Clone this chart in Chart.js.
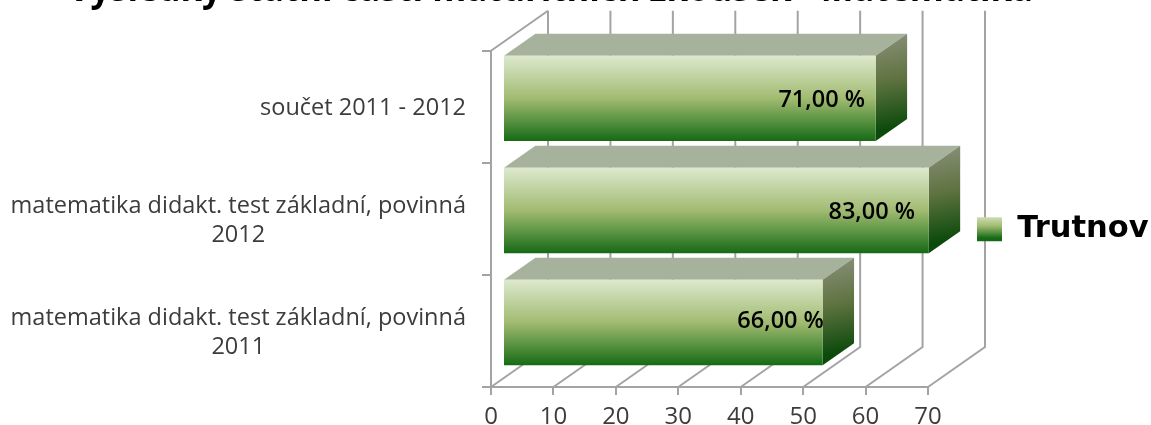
<!DOCTYPE html>
<html>
<head>
<meta charset="utf-8">
<script src="https://cdn.jsdelivr.net/npm/chart.js@4"></script>
<style>
  html, body { margin: 0; padding: 0; background: #fff; overflow: hidden; }
  #wrap { position: absolute; left: 0; top: -40px; width: 1151px; height: 465px; }
</style>
</head>
<body>
<div id="wrap"><canvas id="myChart"></canvas></div>
<script>
// data
const categories = [
    ['součet 2011 - 2012'],
    ['matematika didakt. test základní, povinná', '2012'],
    ['matematika didakt. test základní, povinná', '2011']
];
const seriesName = 'Trutnov';
const barLengths = [59.7, 68.2, 51.2];
const valueLabels = ['71,00 %', '83,00 %', '66,00 %'];
const titleText = 'Výsledky státní části maturitních zkoušek - Matematika';

// 3D look
const wallDepth = { x: 57, y: 40 };
const barFront = { x: 12, y: 8.4 };
const barDepth = { x: 31.4, y: 22 };
const labelShift = [[-54, 2], [-57, 2], [-42, -1]];
const legendPos = { left: 977, top: 254, right: 1151, bottom: 284 };
const titleWidth = 965;
const gridColor = '#a3a3a3';
const labelFont = '"Open Sans", sans-serif';

function frontGradient(ctx, top, bottom) {
    const g = ctx.createLinearGradient(0, top, 0, bottom);
    g.addColorStop(0, '#dde9cd');
    g.addColorStop(0.5, '#a1bb71');
    g.addColorStop(0.75, '#5c9444');
    g.addColorStop(1, '#166a15');
    return g;
}

function barColor(context) {
    const chart = context.chart;
    const y = chart.scales.y;
    if (!y || !chart.chartArea) return '#a1bb71';
    const h = (y.getPixelForTick(1) - y.getPixelForTick(0)) * 0.762;
    const c = y.getPixelForTick(context.dataIndex);
    return frontGradient(chart.ctx, c - h / 2, c + h / 2);
}

const chart3d = {
    id: 'chart3d',
    afterLayout(chart) {
        // legend sits beside the back wall, not beside the chart area
        Object.assign(chart.legend, legendPos);
        chart.legend.width = legendPos.right - legendPos.left;
        chart.legend.height = legendPos.bottom - legendPos.top;
        // title is wider than the padded area
        chart.titleBlock.right = chart.titleBlock.left + titleWidth;
    },
    beforeDraw(chart) {
        // floor and back wall
        const ctx = chart.ctx;
        const a = chart.chartArea;
        const x = chart.scales.x;
        ctx.save();
        ctx.strokeStyle = gridColor;
        ctx.lineWidth = 2;
        x.ticks.forEach(function(t) {
            const px = x.getPixelForValue(t.value);
            ctx.beginPath();
            ctx.moveTo(px, a.bottom);
            ctx.lineTo(px + wallDepth.x, a.bottom - wallDepth.y);
            ctx.lineTo(px + wallDepth.x, a.top - wallDepth.y);
            ctx.stroke();
        });
        ctx.beginPath();
        ctx.moveTo(a.left, a.top);
        ctx.lineTo(a.left + wallDepth.x, a.top - wallDepth.y);
        ctx.stroke();
        ctx.restore();
    },
    beforeDatasetDraw(chart, args) {
        const ctx = chart.ctx;
        ctx.save();
        ctx.translate(barFront.x, -barFront.y);
        args.meta.data.forEach(function(bar) {
            const top = bar.y - bar.height / 2;
            const bottom = bar.y + bar.height / 2;
            // top face
            ctx.fillStyle = '#a6b29b';
            ctx.beginPath();
            ctx.moveTo(bar.base, top);
            ctx.lineTo(bar.base + barDepth.x, top - barDepth.y);
            ctx.lineTo(bar.x + barDepth.x, top - barDepth.y);
            ctx.lineTo(bar.x, top);
            ctx.closePath();
            ctx.fill();
            // side face
            const g = ctx.createLinearGradient(bar.x, top - barDepth.y, bar.x + barDepth.x * 0.6, bottom - barDepth.y * 0.6);
            g.addColorStop(0, '#8a917c');
            g.addColorStop(0.5, '#5f7340');
            g.addColorStop(1, '#0c4a0c');
            ctx.fillStyle = g;
            ctx.beginPath();
            ctx.moveTo(bar.x, top);
            ctx.lineTo(bar.x + barDepth.x, top - barDepth.y);
            ctx.lineTo(bar.x + barDepth.x, bottom - barDepth.y);
            ctx.lineTo(bar.x, bottom);
            ctx.closePath();
            ctx.fill();
        });
    },
    afterDatasetDraw(chart, args) {
        const ctx = chart.ctx;
        ctx.restore();
        // value labels
        ctx.save();
        ctx.font = '600 23.5px ' + labelFont;
        ctx.fillStyle = '#000';
        ctx.textAlign = 'center';
        ctx.textBaseline = 'middle';
        args.meta.data.forEach(function(bar, i) {
            ctx.fillText(valueLabels[i], bar.x + barFront.x + labelShift[i][0], bar.y - barFront.y + labelShift[i][1]);
        });
        ctx.restore();
    },
    afterDraw(chart) {
        // category labels: lines centred, block right aligned to the axis
        const ctx = chart.ctx;
        const y = chart.scales.y;
        ctx.save();
        ctx.font = '23.5px ' + labelFont;
        ctx.fillStyle = '#3c3c3c';
        ctx.textAlign = 'center';
        ctx.textBaseline = 'middle';
        categories.forEach(function(lines, i) {
            const w = Math.max.apply(null, lines.map(function(l) { return ctx.measureText(l).width; }));
            const cx = 466 - w / 2;
            const c = y.getPixelForTick(i) + 2;
            lines.forEach(function(l, n) {
                ctx.fillText(l, cx, c + (n - (lines.length - 1) / 2) * 29);
            });
        });
        ctx.restore();
    }
};

document.addEventListener('DOMContentLoaded', function() {
    const ctx = document.getElementById('myChart').getContext('2d');
    new Chart(ctx, {
        type: 'bar',
        plugins: [chart3d],
        data: {
            labels: categories,
            datasets: [{
                label: seriesName,
                data: barLengths,
                backgroundColor: barColor,
                barPercentage: 0.762,
                categoryPercentage: 1
            }]
        },
        options: {
            indexAxis: 'y',
            responsive: true,
            maintainAspectRatio: false,
            animation: false,
            layout: { padding: { left: 68, right: 223 } },
            plugins: {
                tooltip: { enabled: false },
                title: {
                    display: true,
                    text: titleText,
                    align: 'start',
                    color: '#000',
                    font: { family: labelFont, size: 35, weight: 'bold' },
                    padding: { top: 10, bottom: 38.7 }
                },
                legend: {
                    position: 'chartArea',
                    align: 'start',
                    onClick: null,
                    labels: {
                        boxWidth: 25,
                        boxHeight: 24,
                        padding: 0,
                        color: '#000',
                        font: { family: '"DejaVu Sans"', size: 30.5, weight: 'bold' },
                        generateLabels: function(chart) {
                            const items = Chart.defaults.plugins.legend.labels.generateLabels(chart);
                            items.forEach(function(item) {
                                item.fillStyle = frontGradient(chart.ctx, legendPos.top, legendPos.top + 24);
                                item.strokeStyle = 'transparent';
                                item.lineWidth = 0;
                            });
                            return items;
                        }
                    }
                }
            },
            scales: {
                x: {
                    min: 0,
                    max: 70,
                    afterFit: function(scale) { scale.height = 38; },
                    border: { color: gridColor, width: 2 },
                    grid: { drawOnChartArea: false, color: gridColor, lineWidth: 2, tickLength: 8 },
                    ticks: {
                        stepSize: 10,
                        maxRotation: 0,
                        color: '#3c3c3c',
                        padding: 8,
                        font: { family: labelFont, size: 24 }
                    }
                },
                y: {
                    afterFit: function(scale) { scale.width = 423; },
                    border: { color: gridColor, width: 2 },
                    grid: { drawOnChartArea: false, color: gridColor, lineWidth: 2, tickLength: 9 },
                    ticks: { display: false }
                }
            }
        }
    });
});
</script>
</body>
</html>
